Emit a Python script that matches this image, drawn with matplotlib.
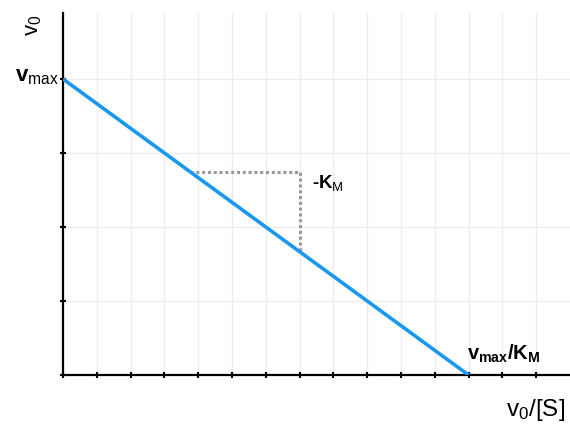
import matplotlib
matplotlib.use("Agg")
from matplotlib import pyplot as plt

# Lineweaver-style plot: v0 against v0/[S]
vmax = 4
vmax_over_km = 12
s_line = [0, vmax_over_km]
v_line = [vmax, 0]

# slope triangle
tri_x = [3.75, 7, 7]
tri_y = [2.75, 2.75, 4 - 7 / 3]

x_ticks = list(range(0, 15))
y_ticks = list(range(0, 5))

plt.rcParams['font.family'] = ['Liberation Sans', 'DejaVu Sans']
plt.rcParams['mathtext.fontset'] = 'custom'
plt.rcParams['mathtext.rm'] = 'Liberation Sans'
plt.rcParams['mathtext.it'] = 'Liberation Sans'
plt.rcParams['mathtext.bf'] = 'Liberation Sans:bold'

fig = plt.figure(figsize=(5.7, 4.24), dpi=100)
ax = fig.add_axes([63 / 570, 1 - 375 / 424, 1 - 63 / 570, (375 - 13) / 424])

ax.plot(s_line, v_line, color='#1a98f0', lw=2.6, solid_capstyle='butt', zorder=3)
ax.plot(tri_x, tri_y, color='#999999', lw=2.2, linestyle=(0, (1, 0.9)), zorder=2)

ax.set_xlim(0, 15)
ax.set_ylim(0, (375 - 13) / 74)
ax.set_xticks(x_ticks)
ax.set_yticks(y_ticks)
ax.set_xticklabels([])
ax.set_yticklabels([])
ax.tick_params(direction='inout', length=5, width=1.5, color='black')
ax.grid(True, color='#ececec', lw=0.9)
ax.set_axisbelow(True)
for side in ['top', 'right']:
    ax.spines[side].set_visible(False)
for side in ['left', 'bottom']:
    ax.spines[side].set_linewidth(1.6)

ax.annotate('v$_\\mathrm{max}$', xy=(0, vmax), xytext=(-3, 1.5), textcoords='offset points',
            ha='right', va='center', fontsize=16, fontweight='bold')
ax.annotate('v$_\\mathbf{max}$/K$_\\mathbf{M}$', xy=(vmax_over_km, 0), xytext=(-1, 7),
            textcoords='offset points', ha='left', va='bottom', fontsize=14.5, fontweight='bold')
ax.annotate('-K$_\\mathrm{M}$', xy=(7, 2.59), xytext=(9, 0), textcoords='offset points',
            ha='left', va='center', fontsize=13.5, fontweight='bold')

fig.text(565 / 570, 1 - 410 / 424, 'v$_0$/[S]', ha='right', va='center', fontsize=17.5)
fig.text(34 / 570, 1 - 25 / 424, 'v$_0$', ha='center', va='center', fontsize=16, rotation=90)

fig.savefig('out.png', dpi=100)
